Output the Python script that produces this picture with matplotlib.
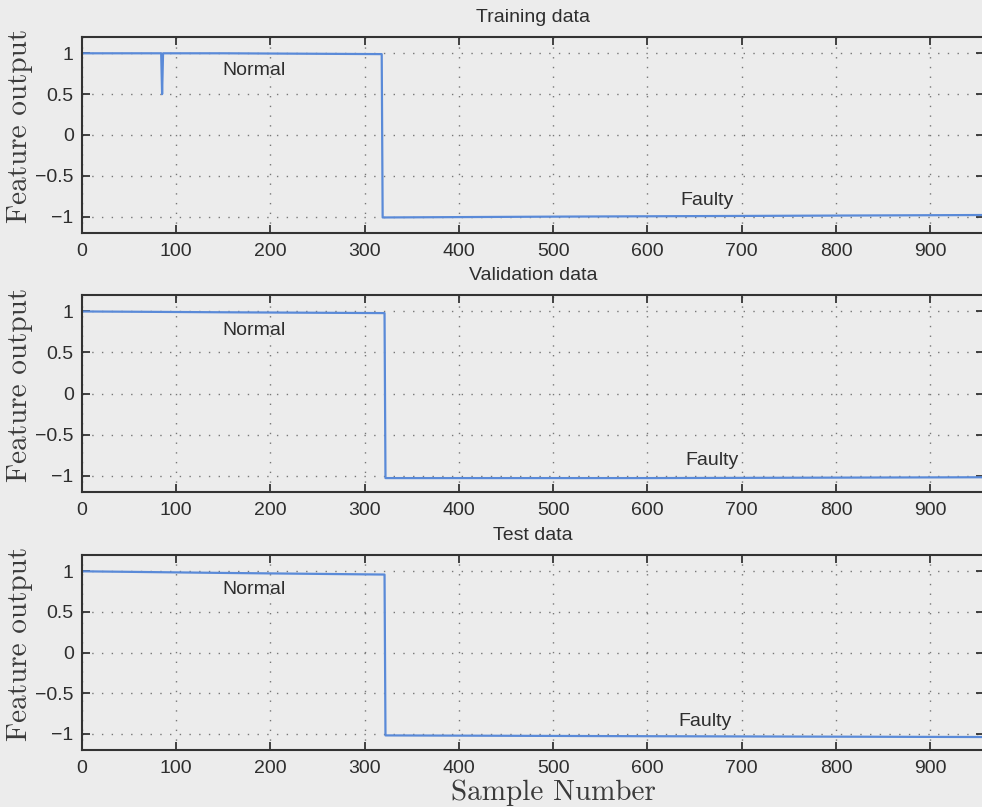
import matplotlib.pyplot as plt

# Feature output per sample: breakpoints of the step traces
train_x = [0, 84, 85, 86, 150, 318, 319, 500, 957]
train_y = [1.0, 1.0, 0.5, 1.0, 1.0, 0.99, -1.01, -1.0, -0.98]

valid_x = [0, 150, 321, 322, 600, 957]
valid_y = [1.0, 0.99, 0.98, -1.03, -1.03, -1.02]

test_x = [0, 150, 321, 322, 600, 957]
test_y = [1.0, 0.98, 0.96, -1.02, -1.03, -1.04]

titles = ["Training data", "Validation data", "Test data"]
normal_pos = [(183, 0.79), (183, 0.77), (183, 0.77)]
faulty_pos = [(663, -0.80), (668, -0.82), (661, -0.85)]

xticks = list(range(0, 1000, 100))
yticks = [-1, -0.5, 0, 0.5, 1]
ytick_labels = ["\u22121", "\u22120.5", "0", "0.5", "1"]

paper = "#ececec"
line_blue = "#5a8ad8"
ink = "#2e2e2e"

fig = plt.figure(figsize=(9.82, 8.07), dpi=100, facecolor=paper)

# axes boxes in figure fractions (left, bottom, width, height)
boxes = [
    (0.0835, 0.7113, 0.9185, 0.2429),
    (0.0835, 0.3903, 0.9185, 0.2441),
    (0.0835, 0.0706, 0.9185, 0.2416),
]

series = [(train_x, train_y), (valid_x, valid_y), (test_x, test_y)]

for box, (xs, ys), title, npos, fpos in zip(boxes, series, titles, normal_pos, faulty_pos):
    ax = fig.add_axes(box)
    ax.set_facecolor(paper)
    ax.plot(xs, ys, color=line_blue, lw=1.6)
    ax.set_xlim(0, 957)
    ax.set_ylim(-1.2, 1.2)
    ax.set_xticks(xticks)
    ax.set_yticks(yticks)
    ax.set_yticklabels(ytick_labels)
    ax.tick_params(direction="in", top=True, right=True, length=6, width=1.3,
                   labelsize=14, labelcolor=ink, color="#333333")
    ax.tick_params(axis="x", pad=7)
    ax.tick_params(axis="y", pad=6)
    for lab in ax.get_xticklabels() + ax.get_yticklabels():
        lab.set_fontfamily("Liberation Sans")
    for sp in ax.spines.values():
        sp.set_linewidth(1.5)
        sp.set_color("#333333")
    ax.grid(True, linestyle=(0, (1, 6)), color="#777777", lw=1.0)
    ax.set_title(title, fontsize=14, family="Liberation Sans", color=ink, pad=11)
    ax.text(npos[0], npos[1], "Normal", fontsize=14, family="Liberation Sans",
            color=ink, ha="center", va="center")
    ax.text(fpos[0], fpos[1], "Faulty", fontsize=14, family="Liberation Sans",
            color=ink, ha="center", va="center")
    ax.text(-0.069, 0.545, "Feature output", transform=ax.transAxes, rotation=90,
            fontsize=21, family="cmr10", color="#3a3a3a", ha="center", va="center")

fig.text(553 / 982, 1 - 800 / 807, "Sample Number", fontsize=21, family="cmr10",
         color="#3a3a3a", ha="center", va="baseline")

fig.savefig("out.png", dpi=100, facecolor=paper)
